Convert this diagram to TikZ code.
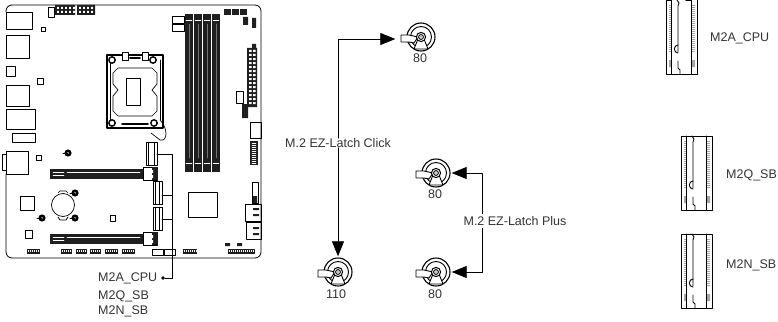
\documentclass[tikz,border=0pt]{standalone}
\usepackage{fontspec}
\setmainfont{Liberation Sans}
\usepackage{xcolor}
\usetikzlibrary{arrows.meta,calc,positioning}
\definecolor{txtgray}{HTML}{333333}
\tikzset{
  part/.style={draw, line width=0.7pt},
  blk/.style={fill=black!88},
  wire/.style={line width=0.8pt},
  arr/.style={line width=0.8pt, -{Triangle[length=15pt,width=12pt]}},
  txt/.style={font=\fontsize{12.5}{14}\selectfont, text=txtgray, inner sep=0pt},
  latchv/.style={circle, minimum size=31pt, inner sep=0pt},
  every picture/.style={line cap=round, line join=round},
  latchpic/.pic={
    \draw[line width=1.1pt] (0,0) circle (14);
    \draw[line width=0.9pt] (0,0) circle (10.5);
    \draw[line width=0.9pt, fill=white] (-20,-2) -- (-12,-2) -- (-3,0) -- (-7,6) -- (-12,5) -- (-20,5) -- cycle;
    \draw[line width=0.9pt, fill=white] (-3,2) -- (-7,12) -- (7,12) -- (3,2) -- cycle;
    \draw[line width=1pt, fill=white] (0,0) circle (4.6);
    \draw[line width=0.9pt] (0,0) circle (2.4);
    \fill (0,0) circle (0.7);
  },
  m2slot/.pic={
    \fill[black!35] (3,5) rectangle (5.5,52) (3,60) rectangle (5.5,67) (26,5) rectangle (29,52) (26,60) rectangle (29,67);
    \foreach \yy in {6,8,...,50} {\draw[white, line width=0.4pt] (3,\yy) -- (5.5,\yy) (26,\yy) -- (29,\yy);}
    \draw[line width=1pt] (0,0) rectangle (31,74);
    \draw[line width=0.9pt] (5.5,0) -- (5.5,74) (25,0) -- (25,74);
    \draw[line width=0.9pt] (11,0) -- (13,3) -- (12,6) -- (12,52) (12,61) -- (12,68) -- (14,70) -- (14,74);
    \draw[line width=0.9pt] (12,53) arc (90:270:3.7 and 4);
    \draw[line width=1.3pt] (1,0.5) -- (5,0.5) (20,0.5) -- (25,0.5);
  }
}

\begin{document}
\begin{tikzpicture}[x=1pt,y=-1pt]
  \useasboundingbox (0,0) rectangle (778,321);

  % board
  \draw[line width=0.8pt] (6,12) -- (6,11) arc (180:270:6 and 6) -- (255,5) arc (-90:0:6) -- (261,252) arc (0:90:6) -- (12,258) arc (90:180:6) -- (6,174);

  % rear ports
  \foreach \xa/\ya/\xb/\yb in {6/12/32/29, 6/35/29/58, 6/66/15/76, 6/85/29/106, 6/109/35/129, 12/133/35/142, 6/151/28/174, 2/154/6/170, 41/27/45/31, 37/78/43/84, 36/155/41/160}
    \draw[part] (\xa,\ya) rectangle (\xb,\yb);

  % top headers
  \draw[part] (48,7) rectangle (54,17);
  \fill[blk] (55,5) rectangle (75,15) (77,5) rectangle (95,15);
  \foreach \xx in {57,61,...,73,79,83,...,93} {\fill[white] (\xx,7) rectangle +(1.8,2) (\xx,11) rectangle +(1.8,2);}
  \draw[part] (172,16) rectangle (184,23) (172,24) rectangle (184,31);
  \foreach \xx in {224,232,240} {\fill[blk] (\xx,9) rectangle +(7,6);}
  \fill[blk] (243,17) rectangle (248,25) (252,18) rectangle (256,28);

  % dimm slots
  \foreach \xx in {185,194,203,212} {
    \fill[blk] (\xx,14) rectangle +(8,158);
    \draw[black!55, line width=0.4pt] (\xx+4.5,24) -- (\xx+4.5,158);
    \draw[white, line width=0.4pt] (\xx+1,20) -- (\xx+7,20) (\xx+1,163) -- (\xx+7,163);
  }

  % cpu socket
  \draw[line width=1.1pt] (107,55) -- (163,55) -- (163,128) -- (107,128) -- cycle;
  \draw[part] (110,60) -- (110,124) (160,60) -- (160,120);
  \fill[white] (122,52) rectangle (128,60) (142,52) rectangle (148,60);
  \draw[part] (122,52) rectangle (128,60) (142,52) rectangle (148,60);
  \draw[line width=1.6pt] (130,58) -- (140,58) (122,124) -- (148,124);
  \foreach \xx/\yy in {112/60, 153/60, 112/123, 154/123} {\draw[line width=1.4pt, fill=white] (\xx,\yy) circle (3.2);}
  \draw[part] (118,68) -- (152,68) -- (157,73) -- (157,84) -- (152,90) -- (157,96) -- (157,111) -- (152,116) -- (118,116) -- (113,111) -- (113,96) -- (118,90) -- (113,84) -- (113,73) -- cycle;
  \draw[part] (126,78) rectangle (140,105);
  \draw[part] (160,120) .. controls (168,128) and (168,142) .. (160,140) -- (151,133);

  % right side connectors
  \fill[blk] (247,48) rectangle (257,107) (252,44) rectangle (256,48) (242,104) rectangle (248,118);
  \foreach \yy in {50,54,...,102} {\fill[white] (249,\yy) rectangle +(2.5,2) (253,\yy) rectangle +(2.5,2);}
  \draw[part] (236,91) rectangle (243,103) (250,122) rectangle (261,138);
  \fill[blk] (250,141) rectangle (258,165);
  \foreach \yy in {143,145,...,163} {\draw[white, line width=0.4pt] (252,\yy) -- (256,\yy);}
  \draw[part] (252,182) rectangle (258,203) (245,204) rectangle (261,221) (246,222) rectangle (261,239);
  \fill[blk] (253,196) rectangle (257,203) (253,208) rectangle (259,210) (253,214) rectangle (259,216) (253,227) rectangle (259,229) (253,233) rectangle (259,235);

  % pcie slots
  \foreach \yy in {169,234} {
    \fill[blk] (50,\yy) rectangle (143,\yy+9.5);
    \draw[white, line width=0.5pt] (53,\yy+3) -- (64,\yy+3) (67,\yy+3) -- (140,\yy+3) (53,\yy+6.5) -- (64,\yy+6.5);
    \draw[line width=0.9pt] (143,\yy-2) rectangle (157.5,\yy+11);
    \fill[blk] (152,\yy-2) rectangle (157.5,\yy+11);
    \fill[white] (147,\yy+1) rectangle (153,\yy+4) (147,\yy+6) rectangle (153,\yy+9);
  }

  % m.2 on board
  \foreach \xa/\ya/\xb/\yb in {146/142/157/165, 153/181/162/204, 153/207/162/230} {
    \draw[line width=0.9pt] (\xa,\ya) rectangle (\xb,\yb);
    \draw[line width=0.5pt] (\xa+2,\ya) -- (\xa+2,\yb) (\xb-3,\ya) -- (\xb-3,\yb);
  }

  % battery, screws, chips
  \draw[part] (63,205) circle (11.5);
  \draw[part] (58,193) -- (60,191) -- (66,191) -- (68,193) (58,217) -- (60,220) -- (66,220) -- (68,217);
  \foreach \xx/\yy in {68/153, 75/193, 75/218, 42/218} {
    \fill (\xx,\yy) circle (3.6);
    \fill[white] (\xx,\yy) circle (1);
    \draw[line width=1pt] (\xx-5,\yy) -- (\xx,\yy);
  }
  \draw[part] (20,196) rectangle (34,210) (25,230) rectangle (32,238) (110,215) rectangle (115,221) (188,192) rectangle (217,217);

  % bottom headers
  \foreach \xa/\xb in {27/40, 61/72, 76/87, 90/101, 105/118, 122/135, 183/197, 228/255} {
    \fill[blk] (\xa,248.5) rectangle (\xb,253.5);
    \foreach \xx in {1,...,40} {\pgfmathparse{\xa+\xx*2-0.6}\ifdim\pgfmathresult pt<\xb pt\fill[white] (\pgfmathresult,250) rectangle +(0.9,2);\fi}
  }
  \fill[blk] (225,243) rectangle (230,246) (237,243) rectangle (242,246);
  \draw[part] (152,249) rectangle (163,255) (164,249) rectangle (175,255);

  % cables from the m.2 sockets
  \node[txt, anchor=west] (labcpu) at (98,278) {M2A\_CPU};
  \node[txt, anchor=west] (labq) at (98,296) {M2Q\_SB};
  \node[txt, anchor=west] (labn) at (98,311) {M2N\_SB};
  \node[circle, fill, inner sep=1.3pt] (busdot) at (163,278) {};
  \coordinate (busa) at (157,154);
  \coordinate (busq) at (162,195);
  \coordinate (busn) at (162,219);
  \draw[wire] (busdot) -| (172,154) -- (busa);
  \draw[wire] (busq) -- (172,195) (busn) -- (172,219);

  % latches
  \node[latchv] (lata) at (421,37) {};
  \node[latchv] (latb) at (338,272) {};
  \node[latchv] (latc) at (436,173) {};
  \node[latchv] (latd) at (436,272) {};
  \foreach \n in {lata,latb,latc,latd} {\pic at (\n) {latchpic};}
  \node[txt] (numa) at (420,58) {80};
  \node[txt] (numb) at (336,294) {110};
  \node[txt] (numc) at (435,194) {80};
  \node[txt] (numd) at (435,294) {80};

  % arrows
  \node[txt] (click) at (338,143) {M.2 EZ-Latch Click};
  \draw[arr] (click.north) |- ($(lata.west)+(-10,2)$);
  \draw[arr] (click.south) -- (latb.north);
  \coordinate (plusbar) at (482,222);
  \draw[arr] (plusbar) |- (latc.east);
  \draw[arr] (plusbar) |- (latd.east);
  \node[txt, fill=white, inner sep=2pt] (plus) at (515,221) {M.2 EZ-Latch Plus};

  % m.2 slots, right column
  \pic at (666,0) {m2slot};
  \pic at (681,136) {m2slot};
  \pic at (681,234) {m2slot};
  \node[txt, anchor=west] (slota) at (710,38) {M2A\_CPU};
  \node[txt, anchor=west] (slotq) at (726,175) {M2Q\_SB};
  \node[txt, anchor=west] (slotn) at (726,265) {M2N\_SB};
\end{tikzpicture}
\end{document}
